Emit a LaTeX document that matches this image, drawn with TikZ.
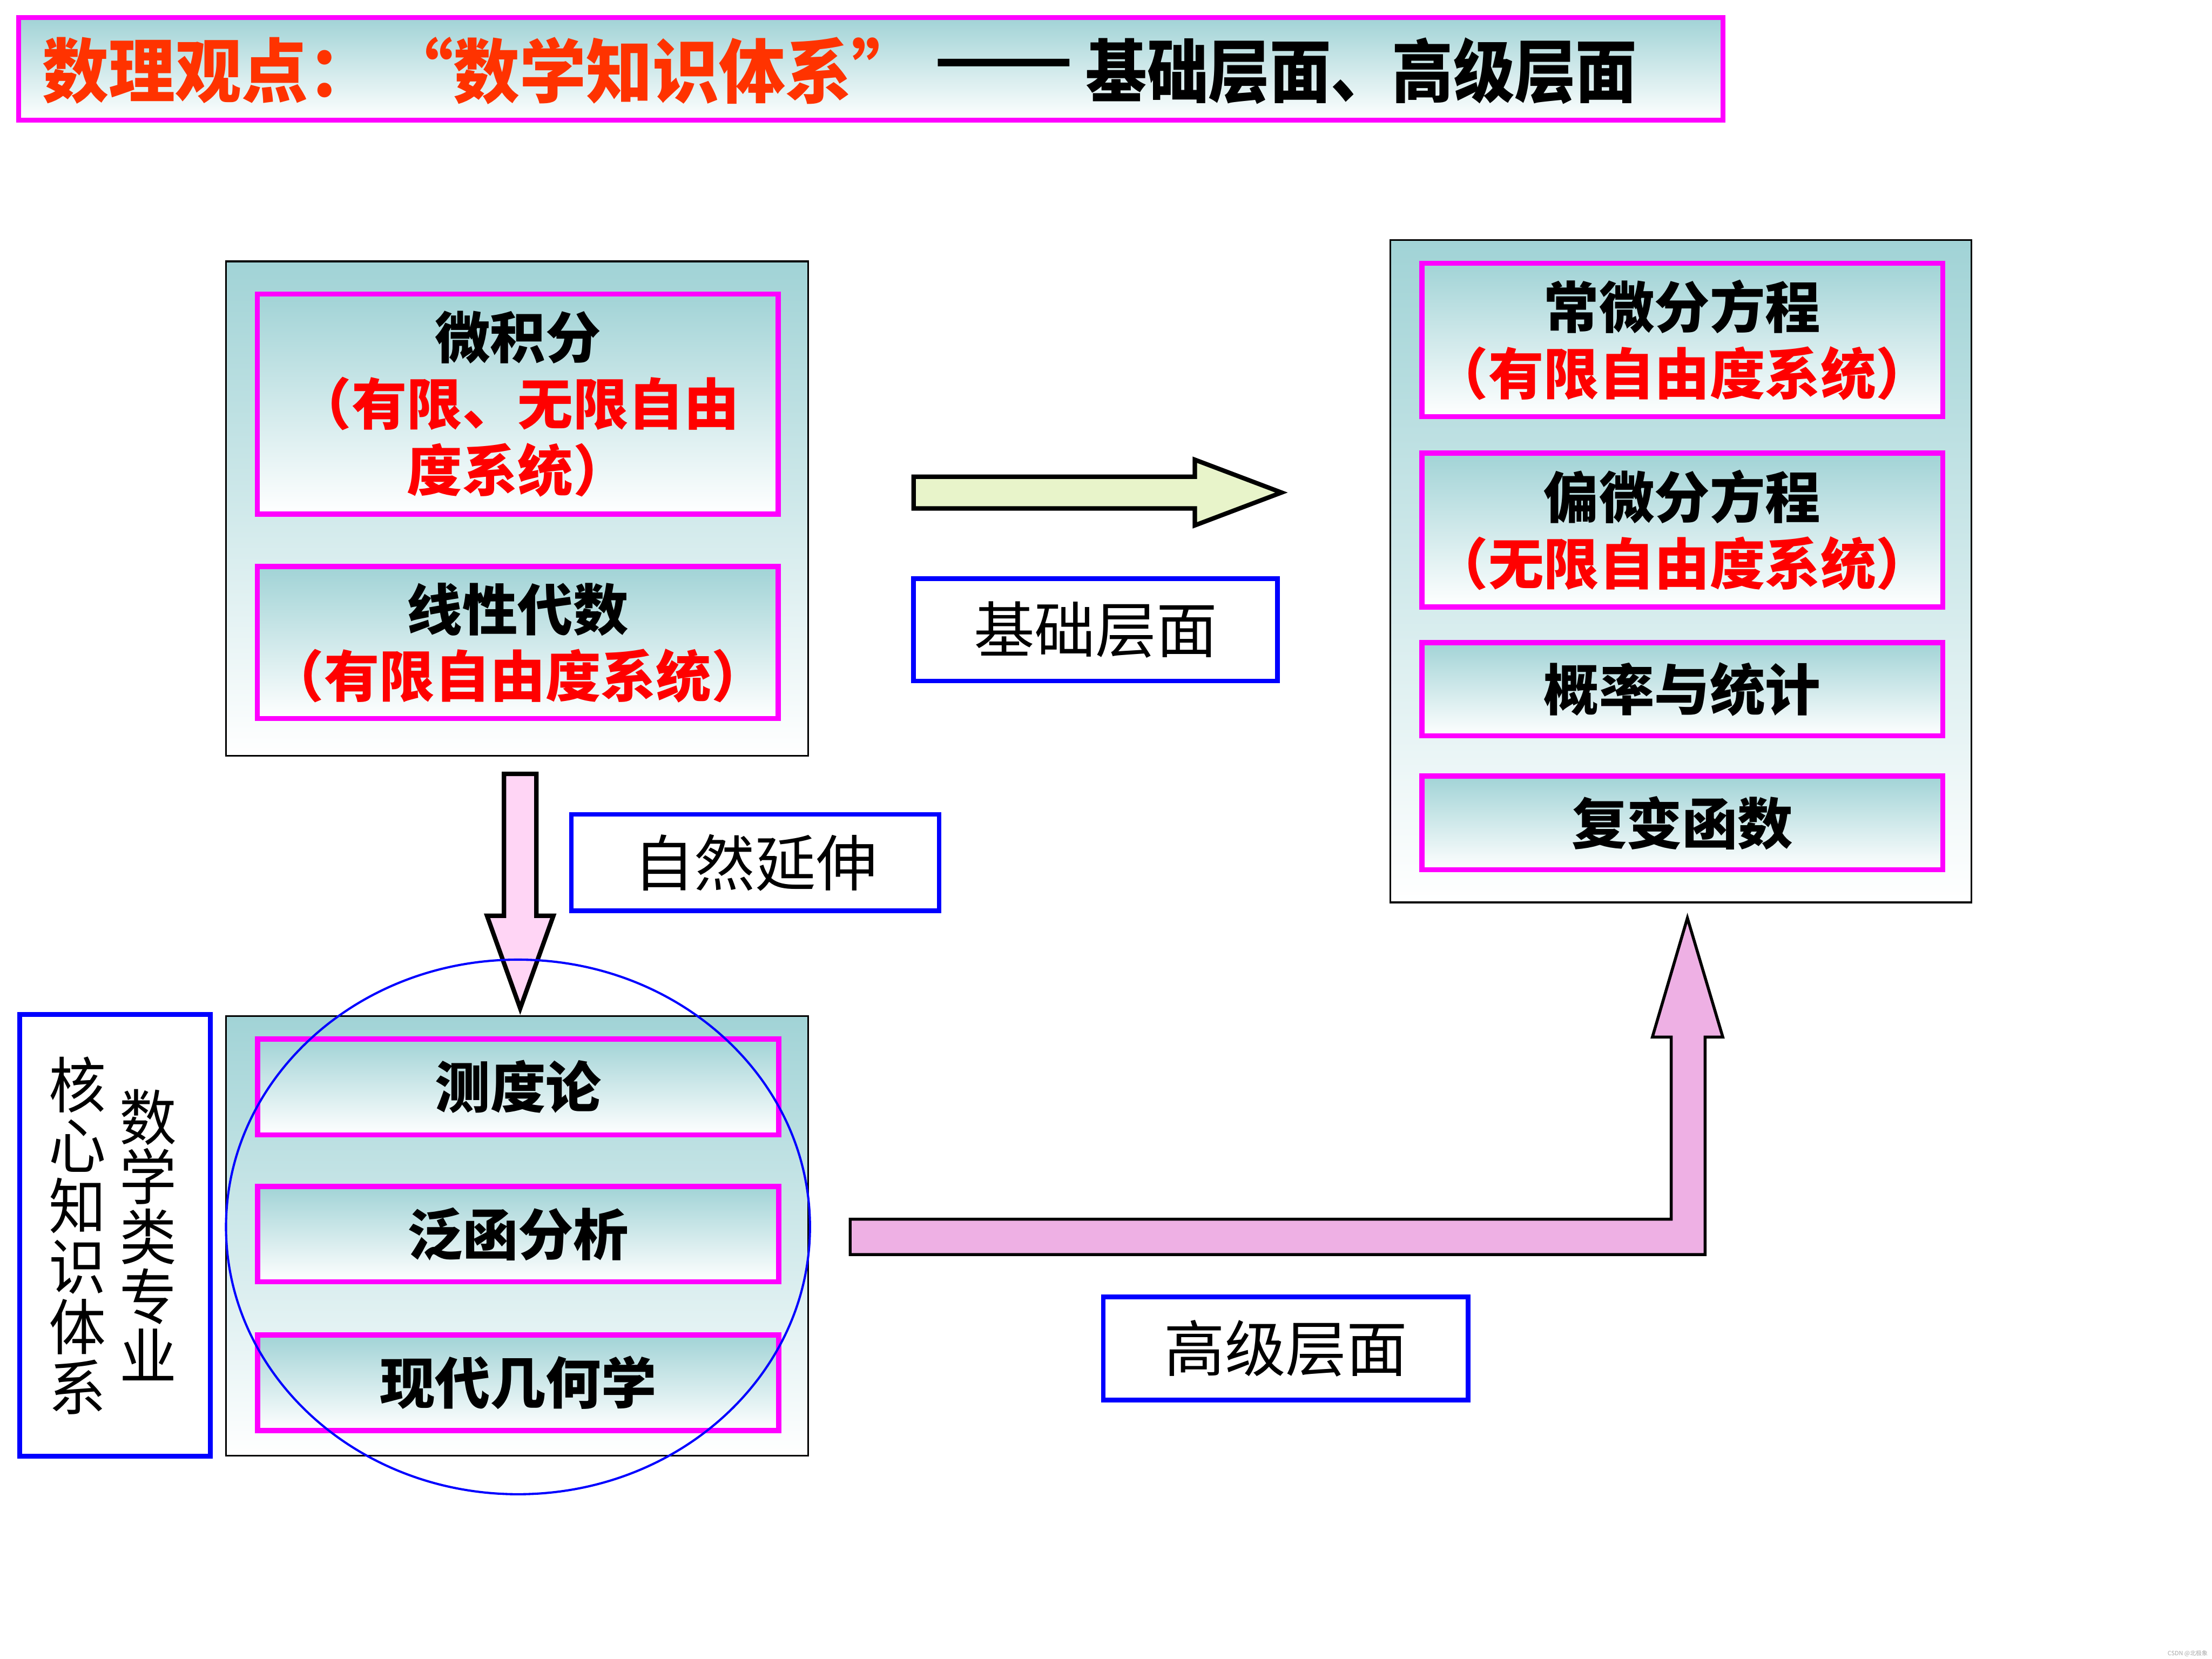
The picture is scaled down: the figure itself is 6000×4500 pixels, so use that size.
\documentclass[tikz,border=0pt]{standalone}
\usepackage{fontspec}
\usepackage{graphicx}
\setmainfont{Noto Sans CJK SC}
\definecolor{tealtop}{RGB}{161,211,214}
\definecolor{mag}{RGB}{255,0,255}
\definecolor{titlered}{RGB}{255,51,0}
\definecolor{arrowgreen}{RGB}{232,244,202}
\definecolor{pinklight}{RGB}{255,213,245}
\definecolor{pinkdark}{RGB}{238,176,228}
\newcommand{\redline}[1]{{\color{red}\fontsize{1.5cm}{1.8cm}\selectfont #1}}
\begin{document}
\begin{tikzpicture}[x=0.01cm,y=-0.01cm,
  outerbox/.style={draw=black, line width=0.05cm, top color=tealtop, bottom color=white, rectangle, inner sep=0pt},
  innerbox/.style={draw=mag, line width=0.14cm, top color=tealtop, bottom color=white, rectangle, inner sep=0pt, align=center, minimum width=14.12cm, font=\bfseries\fontsize{1.5cm}{1.8cm}\selectfont},
  labelbox/.style={draw=blue, line width=0.13cm, fill=white, rectangle, inner sep=0pt, font=\fontsize{1.65cm}{1.9cm}\selectfont},
  titletext/.style={inner sep=0pt, font=\bfseries\fontsize{1.66cm}{2cm}\selectfont},
  vtext/.style={inner sep=0pt, align=center},
  blockarrow/.style={draw=black, line join=miter}
]
\useasboundingbox (0,0) rectangle (6000,4500);

% title
\node[draw=mag, line width=0.14cm, top color=tealtop, bottom color=white, rectangle, minimum width=46.2cm, minimum height=2.78cm, inner sep=0pt] (title) at (2362,187) {};
\node[titletext, text=titlered, anchor=west, font=\bfseries\fontsize{1.8cm}{2cm}\selectfont] (t1) at (115,192) {\scalebox{1}[1.05]{数理观点：}};
\node[titletext, text=titlered, font=\bfseries\fontsize{1.8cm}{2cm}\selectfont] (t2) at (1770,192) {\scalebox{1}[1.05]{“数学知识体系”}};
\node[titletext] (t3) at (2723,192) {\scalebox{1.33}[1.1]{——}};
\node[titletext] (t4) at (3693,192) {\scalebox{1}[1.12]{基础层面、高级层面}};

% top-left group
\node[outerbox, minimum width=15.78cm, minimum height=13.4cm] (tl) at (1402.5,1379.5) {};
\node[innerbox, minimum height=5.96cm] (calc) at (1404.5,1096) {微积分\\\redline{（有限、无限自由}\\\redline{度系统）}};
\node[innerbox, minimum height=4.12cm] (linalg) at (1404.5,1743) {线性代数\\\redline{（有限自由度系统）}};

% right group
\node[outerbox, minimum width=15.75cm, minimum height=17.96cm] (rt) at (4559,1549.5) {};
\node[innerbox, minimum height=4.16cm] (ode) at (4563,922) {常微分方程\\\redline{（有限自由度系统）}};
\node[innerbox, minimum height=4.17cm] (pde) at (4563,1437.5) {偏微分方程\\\redline{（无限自由度系统）}};
\node[innerbox, minimum height=2.53cm] (prob) at (4563,1869.5) {概率与统计};
\node[innerbox, minimum height=2.54cm] (cplx) at (4563,2232) {复变函数};

% bottom-left group
\node[outerbox, minimum width=15.78cm, minimum height=11.92cm] (bl) at (1402.5,3352.5) {};
\node[innerbox, minimum height=2.6cm] (meas) at (1405.5,2948) {测度论};
\node[innerbox, minimum height=2.59cm] (func) at (1405.5,3347.5) {泛函分析};
\node[innerbox, minimum height=2.59cm] (geom) at (1405.5,3750.5) {现代几何学};

% left vertical label
\node[labelbox, minimum width=5.18cm, minimum height=11.97cm] (core) at (312,3350.5) {};
\node[vtext, font=\fontsize{1.55cm}{1.64cm}\selectfont] (corea) at (210,3352) {\scalebox{1}[1.06]{核}\\\scalebox{1}[1.06]{心}\\\scalebox{1}[1.06]{知}\\\scalebox{1}[1.06]{识}\\\scalebox{1}[1.06]{体}\\\scalebox{1}[1.06]{系}};
\node[vtext, font=\fontsize{1.55cm}{1.62cm}\selectfont] (coreb) at (402,3350) {\scalebox{1}[1.06]{数}\\\scalebox{1}[1.06]{学}\\\scalebox{1}[1.06]{类}\\\scalebox{1}[1.06]{专}\\\scalebox{1}[1.06]{业}};

% labels
\node[labelbox, minimum width=9.87cm, minimum height=2.77cm] (basic) at (2971.5,1708.5) {基础层面};
\node[labelbox, minimum width=9.97cm, minimum height=2.61cm] (ext) at (2048.5,2339.5) {自然延伸};
\node[labelbox, minimum width=9.89cm, minimum height=2.79cm] (adv) at (3487.5,3657.5) {高级层面};

% block arrows
\draw[blockarrow, fill=arrowgreen, line width=0.12cm] (2478,1293) -- (3241,1293) -- (3241,1247) -- (3476,1336) -- (3241,1425) -- (3241,1379) -- (2478,1379) -- cycle;
\draw[blockarrow, fill=pinklight, line width=0.12cm] (1367,2099) -- (1455,2099) -- (1455,2484) -- (1501,2484) -- (1411,2735) -- (1321,2484) -- (1367,2484) -- cycle;
\draw[blockarrow, fill=pinkdark, line width=0.08cm] (2306,3307) -- (4533,3307) -- (4533,2813) -- (4482,2813) -- (4577,2490) -- (4673,2813) -- (4625,2813) -- (4625,3403) -- (2306,3403) -- cycle;

% ellipse
\draw[blue, line width=0.06cm] (1405,3328) ellipse [x radius=792, y radius=725];

% watermark
\node[inner sep=0pt, text=gray!70, font=\fontsize{0.16cm}{0.2cm}\selectfont] (wm) at (5934,4485) {CSDN @北极象};
\end{tikzpicture}
\end{document}
